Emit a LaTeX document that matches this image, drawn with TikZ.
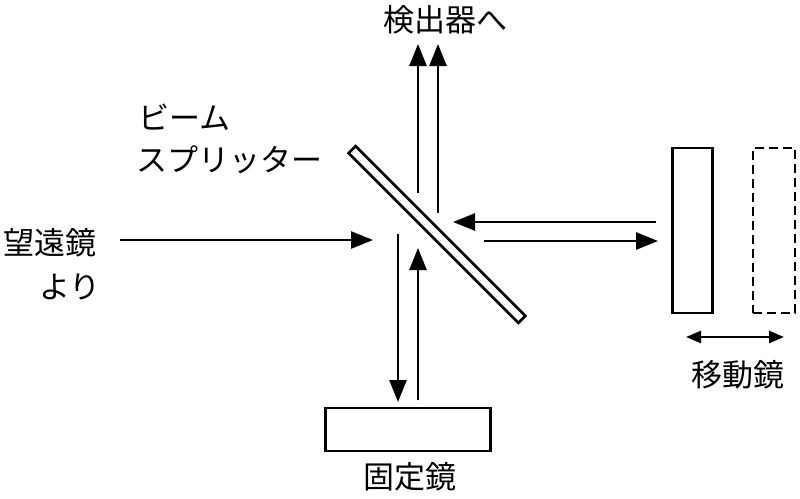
\documentclass[tikz,border=0pt]{standalone}
\usepackage{fontspec}
\newfontfamily\jfont{Noto Sans CJK JP}
\usepackage{tikz}
\usetikzlibrary{positioning, arrows.meta}
\newcommand{\beamarrow}{-{Triangle[length=22pt,width=17pt]}}
\newcommand{\botharrow}{{Triangle[length=15pt,width=12pt]}-{Triangle[length=15pt,width=12pt]}}

\begin{document}
\begin{tikzpicture}[x=1pt, y=-1pt, line width=2.6pt,
        label/.style={inner sep=0pt, font=\jfont\fontsize{31}{36}\selectfont},
        mirror/.style={draw, rectangle, inner sep=0pt},
        ghost/.style={mirror, dash pattern=on 9pt off 5pt}]
        \useasboundingbox (0,0) rectangle (800,498);
        % mirrors
        \node[mirror, minimum width=240pt, minimum height=10pt, rotate=-45] (split) at (437,234.5) {};
        \node[mirror, minimum width=40pt, minimum height=165pt] (move) at (692.5,230.5) {};
        \node[ghost, minimum width=42pt, minimum height=165pt] (moveto) at (774,230.5) {};
        \node[mirror, minimum width=165pt, minimum height=43pt] (fixed) at (408,429.5) {};
        % labels
        \node[label] (det) at (445,20) {検出器へ};
        \node[label, anchor=west] (bs1) at (137,117) {ビーム};
        \node[label, anchor=west] (bs2) at (135,160) {スプリッター};
        \node[label] (tel1) at (50,243) {望遠鏡};
        \node[label] (tel2) at (70,287) {より};
        \node[label] (mlab) at (738,375) {移動鏡};
        \node[label] (flab) at (410,477) {固定鏡};
        % beam ends
        \coordinate (inA) at (120,240);
        \coordinate (inB) at (373,240);
        \coordinate (upA) at (418,193);
        \coordinate (upB) at (438,213);
        \coordinate (topA) at (418,44);
        \coordinate (topB) at (438,44);
        \coordinate (backA) at (656,222);
        \coordinate (backB) at (453,222);
        \coordinate (goA) at (484,241);
        \coordinate (goB) at (658,241);
        \coordinate (downA) at (398,234);
        \coordinate (downB) at (398,402);
        \coordinate (retA) at (418,400);
        \coordinate (retB) at (418,248);
        \coordinate (shiftA) at (686,337);
        \coordinate (shiftB) at (784,337);
        % beams
        \draw[\beamarrow] (inA) -- (inB);
        \draw[\beamarrow] (upA) -- (topA);
        \draw[\beamarrow] (upB) -- (topB);
        \draw[\beamarrow] (backA) -- (backB);
        \draw[\beamarrow] (goA) -- (goB);
        \draw[\beamarrow] (downA) -- (downB);
        \draw[\beamarrow] (retA) -- (retB);
        \draw[\botharrow] (shiftA) -- (shiftB);
    \end{tikzpicture}
\end{document}
